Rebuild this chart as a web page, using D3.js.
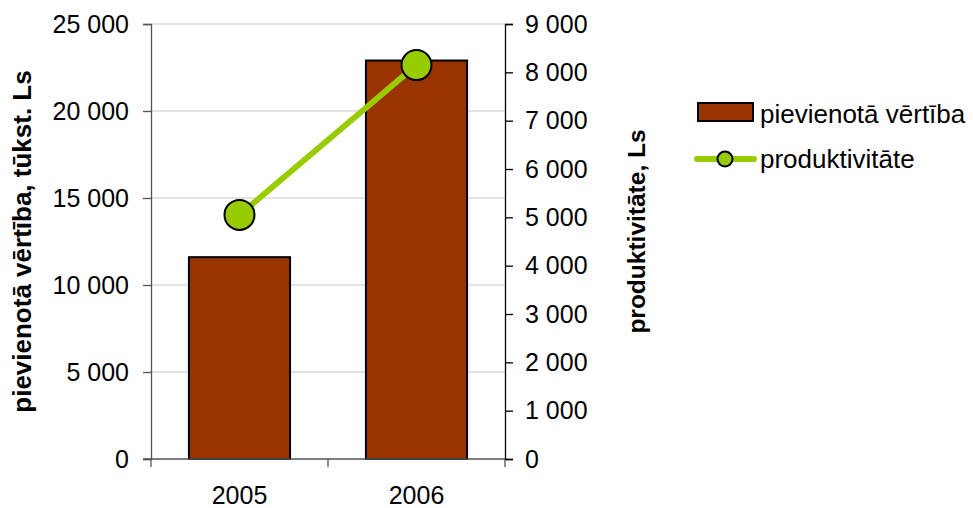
<!DOCTYPE html>
<html><head><meta charset="utf-8">
<script src="https://cdn.jsdelivr.net/npm/d3@7"></script>
<style>
body{margin:0;background:#fff;}
text{font-family:"Liberation Sans",Arial,sans-serif;}
</style></head><body>
<svg id="c" width="973" height="508"></svg>
<script>
const categories = ["2005","2006"];
const addedValue = [11600, 22900];
const productivity = [5050, 8150];
const leftTicks = [0,5000,10000,15000,20000,25000];
const rightTicks = [0,1000,2000,3000,4000,5000,6000,7000,8000,9000];
const seriesNames = ["pievienotā vērtība","produktivitāte"];
const leftTitle = "pievienotā vērtība, tūkst. Ls";
const rightTitle = "produktivitāte, Ls";

const svg = d3.select("#c");
const L = 151, R = 505, T = 24, B = 459;
const fmt = v => d3.format(",")(v).replace(/,/g, " ");

const x = d3.scaleBand().domain(categories).range([L, R]).paddingInner(3/7).paddingOuter(1.5/7);
const yL = d3.scaleLinear().domain([0, 25000]).range([B, T]);
const yR = d3.scaleLinear().domain([0, 9000]).range([B, T]);

// gridlines
svg.append("g").selectAll("line").data(leftTicks.slice(1)).join("line")
  .attr("x1", L).attr("x2", R).attr("y1", d => yL(d)).attr("y2", d => yL(d))
  .attr("stroke", "#c8c8c8").attr("stroke-width", 1);

// bars
svg.append("g").selectAll("rect").data(addedValue).join("rect")
  .attr("x", (d,i) => x(categories[i])).attr("width", x.bandwidth())
  .attr("y", d => yL(d)).attr("height", d => B - yL(d))
  .attr("fill", "#993300").attr("stroke", "#000").attr("stroke-width", 2);

// left axis
const gl = svg.append("g").attr("transform", `translate(${L},0)`)
  .call(d3.axisLeft(yL).tickValues(leftTicks).tickFormat(fmt).tickSize(8).tickPadding(14));
gl.select(".domain").attr("stroke", "#555").attr("stroke-width", 1.3);
gl.selectAll(".tick line").attr("stroke", "#555").attr("stroke-width", 1.3);
gl.selectAll("text").attr("font-size", 25).attr("fill", "#000").attr("font-family", "Liberation Sans, Arial, sans-serif");

// right axis
const gr = svg.append("g").attr("transform", `translate(${R},0)`)
  .call(d3.axisRight(yR).tickValues(rightTicks).tickFormat(fmt).tickSize(8).tickPadding(12));
gr.select(".domain").attr("stroke", "#000").attr("stroke-width", 1.3);
gr.selectAll(".tick line").attr("stroke", "#000").attr("stroke-width", 1.3);
gr.selectAll("text").attr("font-size", 25).attr("fill", "#000").attr("font-family", "Liberation Sans, Arial, sans-serif");

// bottom axis
const xb = d3.scalePoint().domain([0,1,2]).range([L, R]);
const gb = svg.append("g").attr("transform", `translate(0,${B})`);
gb.append("line").attr("x1", L - 8).attr("x2", R).attr("y1", 0).attr("y2", 0).attr("stroke", "#555").attr("stroke-width", 1.3);
gb.selectAll("line.t").data([0,1,2]).join("line").attr("class","t")
  .attr("x1", d => xb(d)).attr("x2", d => xb(d)).attr("y1", 0).attr("y2", 8)
  .attr("stroke", "#555").attr("stroke-width", 1.3);
gb.selectAll("text").data(categories).join("text")
  .attr("x", d => x(d) + x.bandwidth()/2).attr("y", 45)
  .attr("text-anchor", "middle").attr("font-size", 25).text(d => d);

// line series
const cx = (d,i) => x(categories[i]) + x.bandwidth()/2;
svg.append("path").datum(productivity)
  .attr("d", d3.line().x(cx).y(d => yR(d)))
  .attr("fill", "none").attr("stroke", "#99cc00").attr("stroke-width", 6);
svg.append("g").selectAll("circle").data(productivity).join("circle")
  .attr("cx", cx).attr("cy", d => yR(d)).attr("r", 15)
  .attr("fill", "#99cc00").attr("stroke", "#000").attr("stroke-width", 2);

// axis titles
svg.append("text").attr("transform", `translate(31,${(T+B)/2}) rotate(-90)`)
  .attr("text-anchor", "middle").attr("font-weight", "bold").attr("font-size", 26).text(leftTitle);
svg.append("text").attr("transform", `translate(645,${(T+B)/2 - 10}) rotate(-90)`)
  .attr("text-anchor", "middle").attr("font-weight", "bold").attr("font-size", 24.5).text(rightTitle);

// legend
const lg = svg.append("g");
lg.append("rect").attr("x", 698).attr("y", 103).attr("width", 55).attr("height", 18)
  .attr("fill", "#993300").attr("stroke", "#000").attr("stroke-width", 2);
lg.append("text").attr("x", 760).attr("y", 123).attr("font-size", 26).text(seriesNames[0]);
lg.append("line").attr("x1", 697).attr("x2", 754).attr("y1", 159).attr("y2", 159)
  .attr("stroke", "#99cc00").attr("stroke-width", 6).attr("stroke-linecap", "round");
lg.append("circle").attr("cx", 725).attr("cy", 159).attr("r", 7.5)
  .attr("fill", "#99cc00").attr("stroke", "#000").attr("stroke-width", 2);
lg.append("text").attr("x", 760).attr("y", 168).attr("font-size", 26).text(seriesNames[1]);
</script>
</body></html>
